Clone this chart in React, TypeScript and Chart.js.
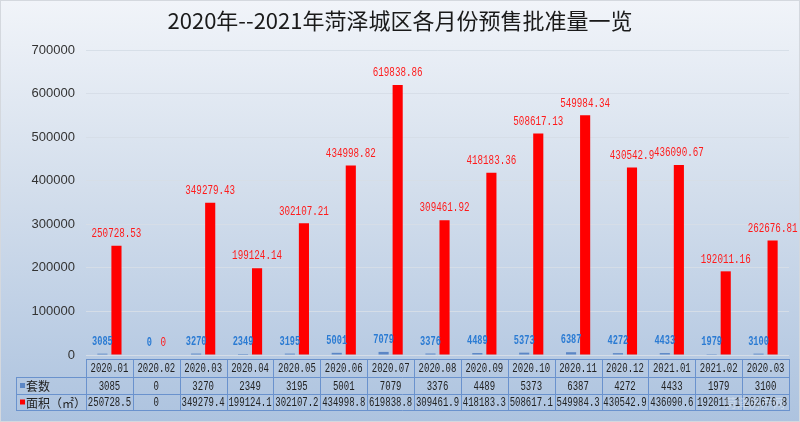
import React, { useEffect, useRef } from "react";
import { Chart, registerables } from "chart.js";

Chart.register(...registerables);

const chartTitle = "2020年--2021年菏泽城区各月份预售批准量一览";
const months = [
  "2020.01", "2020.02", "2020.03", "2020.04", "2020.05", "2020.06", "2020.07", "2020.08",
  "2020.09", "2020.10", "2020.11", "2020.12", "2021.01", "2021.02", "2020.03",
];
const setsLabel = "套数";
const areaLabel = "面积（㎡）";
const sets = [3085, 0, 3270, 2349, 3195, 5001, 7079, 3376, 4489, 5373, 6387, 4272, 4433, 1979, 3100];
const area = [
  250728.53, 0, 349279.43, 199124.14, 302107.21, 434998.82, 619838.86, 309461.92,
  418183.36, 508617.13, 549984.34, 430542.9, 436090.67, 192011.16, 262676.81,
];
const yMax = 700000;
const yStep = 100000;
const watermark = "菏泽房产网";

const BLUE = "#5b86c5";
const BLUE_TEXT = "#2b7bd3";
const RED = "#ff0000";
const RED_TEXT = "#ff1a1a";
const MONO = "'Liberation Mono', monospace";
const CJK = "'Noto Sans CJK SC', sans-serif";
const TABLE_SX = 0.75;

function drawCondensed(
  ctx: CanvasRenderingContext2D,
  text: string,
  x: number,
  y: number,
  font: string,
  color: string,
  sx = 0.85
) {
  ctx.save();
  ctx.font = font;
  ctx.fillStyle = color;
  ctx.textAlign = "center";
  ctx.textBaseline = "middle";
  ctx.translate(x, y);
  ctx.scale(sx, 1);
  ctx.fillText(text, 0, 0);
  ctx.restore();
}

function fitText(ctx: CanvasRenderingContext2D, text: string, font: string, maxW: number, sx: number) {
  ctx.save();
  ctx.font = font;
  let s = text;
  while (s.length > 1 && ctx.measureText(s).width * sx > maxW) s = s.slice(0, -1);
  ctx.restore();
  return s;
}

const backgroundPlugin = {
  id: "bg",
  beforeDraw(chart: any) {
    const { ctx, width, height } = chart;
    ctx.save();
    const g = ctx.createLinearGradient(0, 0, 0, height);
    g.addColorStop(0, "#f1f4f9");
    g.addColorStop(0.45, "#d3deec");
    g.addColorStop(1, "#adc3df");
    ctx.fillStyle = g;
    ctx.fillRect(0, 0, width, height);
    ctx.strokeStyle = "#d4d8de";
    ctx.lineWidth = 1;
    ctx.strokeRect(0.5, 0.5, width - 1, height - 1);
    ctx.font = `22px ${CJK}`;
    ctx.fillStyle = "#1a1a1a";
    ctx.textAlign = "center";
    ctx.textBaseline = "middle";
    ctx.fillText(chartTitle, 400, 21);
    ctx.restore();
  },
};

const labelsPlugin = {
  id: "valueLabels",
  afterDatasetsDraw(chart: any) {
    const { ctx } = chart;
    chart.data.datasets.forEach((ds: any, d: number) => {
      const meta = chart.getDatasetMeta(d);
      meta.data.forEach((el: any, i: number) => {
        const v = ds.data[i];
        if (d === 0) {
          drawCondensed(ctx, String(v), el.x, el.y - 12, `bold 12px ${MONO}`, BLUE_TEXT, 0.72);
        } else {
          drawCondensed(ctx, String(v), el.x, el.y - 12, `12px ${MONO}`, RED_TEXT, 0.77);
        }
      });
    });
  },
};

const tablePlugin = {
  id: "dataTable",
  afterDraw(chart: any) {
    const { ctx, chartArea } = chart;
    const n = months.length;
    const left = chartArea.left;
    const right = chartArea.right;
    const colW = (right - left) / n;
    const top = chartArea.bottom + 4;
    const r1 = top + 18;
    const r2 = r1 + 17;
    const bottom = r2 + 16;
    const labelLeft = 16;
    ctx.save();
    ctx.strokeStyle = "#6a92cd";
    ctx.lineWidth = 1;
    ctx.beginPath();
    ctx.moveTo(left, Math.round(top) + 0.5);
    ctx.lineTo(right, Math.round(top) + 0.5);
    [r1, r2, bottom].forEach((yy) => {
      ctx.moveTo(labelLeft, Math.round(yy) + 0.5);
      ctx.lineTo(right, Math.round(yy) + 0.5);
    });
    ctx.moveTo(labelLeft + 0.5, Math.round(r1));
    ctx.lineTo(labelLeft + 0.5, Math.round(bottom) + 1);
    for (let i = 0; i <= n; i++) {
      const xx = Math.round(left + i * colW) + 0.5;
      ctx.moveTo(xx, Math.round(top));
      ctx.lineTo(xx, Math.round(bottom) + 1);
    }
    ctx.stroke();

    const font = `12px ${MONO}`;
    const xs = chart.scales.x;
    for (let i = 0; i < n; i++) {
      const cx = xs.getPixelForValue(i);
      drawCondensed(ctx, fitText(ctx, months[i], font, colW - 1, TABLE_SX), cx, (top + r1) / 2 + 1, font, "#222", TABLE_SX);
      drawCondensed(ctx, fitText(ctx, String(sets[i]), font, colW - 1, TABLE_SX), cx, (r1 + r2) / 2 + 1, font, "#222", TABLE_SX);
      drawCondensed(ctx, fitText(ctx, String(area[i]), font, colW - 1, TABLE_SX), cx, (r2 + bottom) / 2 + 1, font, "#222", TABLE_SX);
    }

    ctx.fillStyle = BLUE;
    ctx.fillRect(20, (r1 + r2) / 2 - 2.5, 5, 5);
    ctx.fillStyle = RED;
    ctx.fillRect(20, (r2 + bottom) / 2 - 2.5, 5, 5);
    ctx.font = `12px ${CJK}`;
    ctx.fillStyle = "#222";
    ctx.textAlign = "left";
    ctx.textBaseline = "middle";
    ctx.fillText(setsLabel, 26, (r1 + r2) / 2 + 1);
    ctx.fillText(areaLabel, 26, (r2 + bottom) / 2 + 1);

    ctx.globalAlpha = 0.35;
    ctx.fillStyle = "#ffffff";
    ctx.font = `12px ${CJK}`;
    ctx.textAlign = "center";
    ctx.fillText(watermark, 755, (r2 + bottom) / 2 + 1);
    ctx.restore();
  },
};

export default function App() {
  const ref = useRef<HTMLCanvasElement | null>(null);
  useEffect(() => {
    if (!ref.current) return;
    const chart = new Chart(ref.current, {
      type: "bar",
      data: {
        labels: months,
        datasets: [
          {
            label: setsLabel,
            data: sets,
            backgroundColor: BLUE,
            barPercentage: 0.72,
            categoryPercentage: 0.6,
          },
          {
            label: areaLabel,
            data: area,
            backgroundColor: RED,
            barPercentage: 0.72,
            categoryPercentage: 0.6,
          },
        ],
      },
      options: {
        animation: false,
        responsive: true,
        maintainAspectRatio: false,
        layout: { padding: { top: 50, right: 11, bottom: 67, left: 0 } },
        plugins: {
          legend: { display: false },
          tooltip: { enabled: false },
          title: { display: false },
        },
        scales: {
          x: { display: false },
          y: {
            min: 0,
            max: yMax,
            afterFit: (s: any) => {
              s.width = 86;
            },
            border: { display: false },
            grid: { color: "rgba(214,221,231,0.95)", drawTicks: false, lineWidth: 1 },
            ticks: {
              stepSize: yStep,
              padding: 11,
              color: "#333",
              font: { family: "'Liberation Sans', Arial, sans-serif", size: 13 },
              callback: (v: any) => String(v),
            },
          },
        },
      },
      plugins: [backgroundPlugin, labelsPlugin, tablePlugin],
    });
    return () => chart.destroy();
  }, []);
  return (
    <div style={{ position: "fixed", left: 0, top: 0, width: 800, height: 422 }}>
      <canvas ref={ref} />
    </div>
  );
}
